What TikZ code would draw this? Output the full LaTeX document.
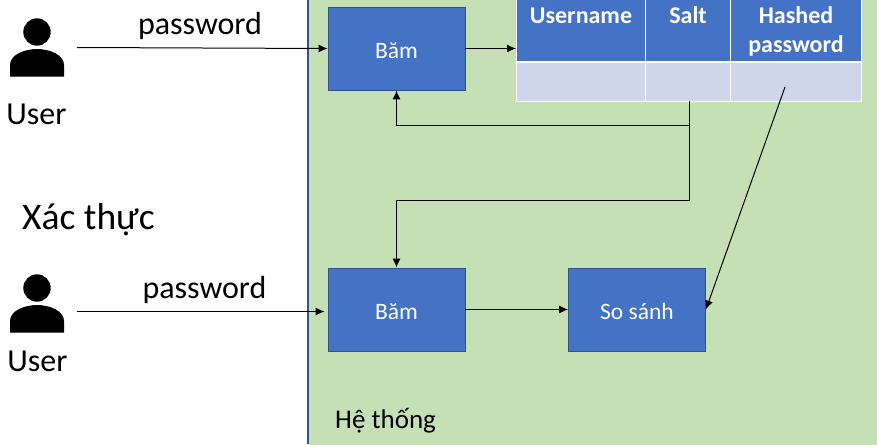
\documentclass[tikz,border=0pt]{standalone}
\usepackage{fontspec}
\usetikzlibrary{arrows.meta}
\setmainfont{Carlito}
\definecolor{panelgreen}{HTML}{C5E0B4}
\definecolor{boxblue}{HTML}{4472C4}
\definecolor{boxline}{HTML}{2F528F}
\definecolor{rowblue}{HTML}{CFD5EA}
\tikzset{
  BoxStyle/.style ={draw=boxline, line width=0.8pt, fill=boxblue, text=white, minimum width=137pt, minimum height=83pt, inner sep=0, text height=22pt, text depth=2pt, font=\fontsize{23.5}{26}\selectfont},
  HeadStyle/.style ={draw=white, line width=1pt, fill=boxblue, inner sep=0, anchor=north west, minimum height=62pt},
  HeadText/.style ={text=white, inner sep=0, align=center, anchor=north, yshift=-4pt, font=\bfseries\fontsize{24}{29}\selectfont},
  RowStyle/.style ={draw=white, line width=1pt, fill=rowblue, inner sep=0, anchor=north west, minimum height=39pt},
  LabelStyle/.style ={inner sep=0, font=\fontsize{32}{35}\selectfont},
  EdgeStyle/.style ={-{Latex[length=9pt,width=8pt]}, line width=1pt, black}
}
\begin{document}
\begin{tikzpicture}[x=1pt,y=-1pt]
\useasboundingbox (0,0) rectangle (877,444);
\fill[white] (0,0) rectangle (877,444);
% system panel
\fill[panelgreen] (308,-2) rectangle (879,446);
\draw[boxline, line width=1.2pt] (308,0) -- (308,444);
\node[inner sep=0,anchor=west,font=\fontsize{27}{30}\selectfont] (system) at (335,421) {Hệ thống};
% users
\foreach \y in {0,256} {
\fill (37,32+\y) circle (13.7);
\fill (10,76.7+\y) -- (10,65+\y) .. controls (10,55+\y) and (24,49+\y) .. (37,49+\y) .. controls (50,49+\y) and (64,55+\y) .. (64,65+\y) -- (64,76.7+\y) -- cycle;
}
\node[LabelStyle] (user1) at (36.5,114) {User};
\node[LabelStyle] (user2) at (37.5,361) {User};
\node[LabelStyle] (pass1) at (200,26) {password};
\node[LabelStyle] (pass2) at (204.5,290) {password};
\node[LabelStyle,anchor=west,font=\fontsize{37.5}{40}\selectfont] (auth) at (22,220) {Xác thực};
\coordinate (start1) at (77,47.5);
\coordinate (start2) at (77,311.5);
% boxes
\node[BoxStyle] (hash1) at (396.5,48.5) {Băm};
\node[BoxStyle] (hash2) at (396.5,309.5) {Băm};
\node[BoxStyle] (compare) at (637,309.5) {So sánh};
% table
\node[HeadStyle,minimum width=129pt,label={[HeadText]north:\strut Username}] (username) at (516,-1) {};
\node[HeadStyle,minimum width=85pt,label={[HeadText]north:\strut Salt}] (salt) at (645,-1) {};
\node[HeadStyle,minimum width=131pt,label={[HeadText]north:\strut Hashed\\password}] (hashed) at (730,-1) {};
\node[RowStyle,minimum width=129pt] (row1) at (516,62) {};
\node[RowStyle,minimum width=85pt] (row2) at (645,62) {};
\node[RowStyle,minimum width=131pt] (row3) at (730,62) {};
\coordinate (saltout) at (689,101);
\coordinate (branch) at (689,125);
\coordinate (hashedin) at (785,87);
% connectors
\draw[EdgeStyle] (start1) -- (hash1.west);
\draw[EdgeStyle,shorten >=3pt] (start2) -- (hash2.west |- start2);
\draw[EdgeStyle] (hash1.east) -- (username.west |- hash1.east);
\draw[EdgeStyle] (hash2.east) -- (compare.west);
\draw[EdgeStyle] (saltout) -- (branch) -| (hash1.south);
\draw[EdgeStyle] (branch) -- (689,200) -| (hash2.north);
\draw[EdgeStyle] (hashedin) -- (compare.east);
\end{tikzpicture}
\end{document}
